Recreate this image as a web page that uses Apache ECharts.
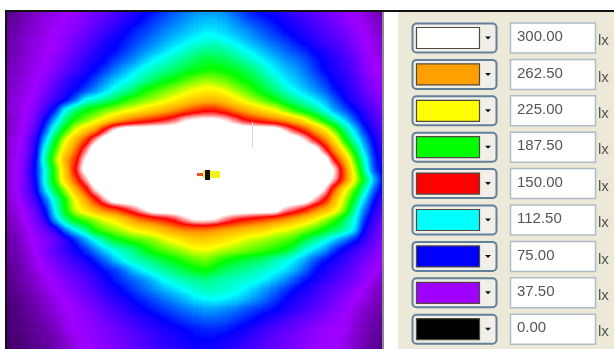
<!DOCTYPE html>
<html><head><meta charset="utf-8">
<script src="https://cdn.jsdelivr.net/npm/echarts@6/dist/echarts.min.js"></script>
<style>
html,body{margin:0;padding:0;background:#fff;width:614px;height:349px;overflow:hidden}
#clip{position:absolute;left:7px;top:12px;width:376px;height:337px;overflow:hidden}
#heat{position:absolute;left:-7px;top:-12px;width:390px;height:361px;filter:url(#ramp)}
#over{position:absolute;left:0;top:0;width:614px;height:349px;filter:blur(0.45px)}
</style></head><body>
<svg width="0" height="0" style="position:absolute">
<filter id="ramp" color-interpolation-filters="sRGB" x="0" y="0" width="100%" height="100%">
<feGaussianBlur in="SourceGraphic" stdDeviation="3.6"/>
<feComponentTransfer>
<feFuncR type="table" tableValues="0 0.627 0 0 0 1 1 1 1 1"/>
<feFuncG type="table" tableValues="0 0 0 1 1 1 0.627 0 1 1"/>
<feFuncB type="table" tableValues="0 1 1 1 0 0 0 0 1 1"/>
<feFuncA type="linear" slope="4"/>
</feComponentTransfer>
</filter>
</svg>
<div id="clip"><div id="heat"></div></div>
<div id="over"></div>
<script>
const legendValues = ['300.00','262.50','225.00','187.50','150.00','112.50','75.00','37.50','0.00'];
const legendColors = ['#ffffff','#ffa000','#ffff00','#00ff00','#ff0000','#00ffff','#0000ff','#a000ff','#000000'];
const xCells = [5,15,25,35,45,55,65,75,85,95,105,115,125,135,145,155,165,175,185,195,205,215,225,235,245,255,265,275,285,295,305,315,325,335,345,355,365,375,385];
const yCells = [10,20,30,40,50,60,70,80,90,100,110,120,130,140,150,160,170,180,190,200,210,220,230,240,250,260,270,280,290,300,310,320,330,340,350];
const lux = [
[20,23,26,29,32,35,37,40,44,48,52,57,62,68,73,78,83,87,91,95,97,97,94,88,82,77,73,69,65,61,57,53,49,45,41,38,33,28,24],
[21,24,28,31,34,36,38,41,45,50,55,60,66,72,78,83,88,93,97,101,103,103,100,95,89,84,79,75,70,66,61,57,52,48,43,39,35,30,26],
[22,25,29,32,35,37,40,44,48,54,60,66,73,79,84,89,94,98,102,106,108,108,106,101,96,91,86,81,76,71,66,61,56,52,47,41,37,32,28],
[23,26,30,33,36,38,42,47,53,60,67,73,78,84,89,94,99,104,109,113,116,116,113,108,103,98,93,88,83,77,71,66,60,55,50,44,38,34,30],
[24,27,31,34,36,39,44,50,57,65,71,76,82,89,95,101,107,113,119,125,129,130,126,120,113,107,101,95,90,85,79,73,67,61,55,48,40,35,32],
[25,28,32,35,37,42,48,55,62,70,76,83,90,97,105,112,118,124,130,136,141,142,137,132,125,116,110,104,97,92,87,80,73,66,59,52,42,37,34],
[26,29,32,36,39,45,52,60,68,75,83,92,100,108,116,123,129,135,141,147,151,152,148,145,138,131,119,111,105,99,93,84,74,69,62,55,44,39,36],
[27,30,33,37,42,50,59,69,76,85,95,104,111,119,127,136,144,152,160,167,172,170,165,156,148,141,131,121,110,104,98,90,82,72,66,58,48,41,38],
[28,31,35,38,46,56,66,74,84,94,105,116,125,135,151,158,165,172,180,186,191,190,184,174,164,152,142,132,120,111,105,97,89,78,70,61,50,44,40],
[29,33,36,41,50,60,72,88,113,120,128,137,152,160,168,175,183,191,200,208,214,214,207,194,183,172,160,149,138,127,119,110,100,87,76,65,55,47,42],
[30,33,37,44,58,78,112,132,147,156,165,172,181,186,197,205,216,225,236,248,256,256,245,232,218,207,196,185,168,152,140,128,114,98,86,76,63,53,46],
[28,32,37,47,72,100,130,153,165,178,192,211,224,238,247,256,265,277,296,303,305,305,298,282,262,252,242,232,222,207,189,167,146,124,106,86,70,58,50],
[28,33,39,54,85,122,152,181,204,222,266,305,320,320,320,320,320,320,320,320,320,320,320,320,320,320,320,320,296,270,250,220,195,163,132,106,80,65,52],
[29,34,42,62,102,142,183,213,243,287,320,320,320,320,320,320,320,320,320,320,320,320,320,320,320,320,320,320,320,320,298,265,234,197,150,122,94,70,56],
[29,35,44,65,117,155,198,232,278,320,320,320,320,320,320,320,320,320,320,320,320,320,320,320,320,320,320,320,320,320,320,320,272,225,183,142,105,75,60],
[30,36,46,70,124,170,219,250,300,320,320,320,320,320,320,320,320,320,320,320,320,320,320,320,320,320,320,320,320,320,320,320,320,262,217,161,116,81,64],
[30,36,47,75,112,155,206,262,310,320,320,320,320,320,320,320,320,320,320,320,320,320,320,320,320,320,320,320,320,320,320,320,320,300,240,178,125,84,68],
[30,36,47,72,116,155,203,243,285,320,320,320,320,320,320,320,320,320,320,320,320,320,320,320,320,320,320,320,320,320,320,320,320,290,241,187,143,100,70],
[30,36,47,68,108,140,172,213,250,296,320,320,320,320,320,320,320,320,320,320,320,320,320,320,320,320,320,320,320,320,320,320,298,240,190,160,122,88,65],
[29,35,45,60,88,120,150,185,218,253,290,320,320,320,320,320,320,320,320,320,320,320,320,320,320,320,320,320,320,320,320,292,262,215,177,143,104,75,58],
[28,33,40,52,74,112,148,180,200,217,235,245,262,280,302,320,320,320,320,320,320,320,320,320,320,320,320,320,290,277,258,235,217,197,168,125,92,68,52],
[26,31,38,46,62,100,130,150,160,172,184,193,210,228,238,247,256,268,288,303,305,300,282,268,258,250,243,235,228,214,202,189,172,156,135,115,82,60,47],
[24,29,35,42,50,65,93,112,128,153,164,172,180,190,197,204,217,226,231,233,233,228,223,218,212,207,202,191,185,179,170,160,148,138,127,110,72,56,44],
[23,27,33,38,43,50,62,80,97,114,130,146,153,160,166,172,182,191,200,206,208,203,198,190,183,178,173,168,163,157,142,129,116,105,92,79,62,52,42],
[22,26,31,39,46,54,63,72,82,94,107,116,125,133,147,157,164,171,178,185,187,183,178,173,168,164,160,155,148,135,118,108,99,82,71,62,54,46,40],
[21,25,29,36,42,48,55,63,70,80,90,105,116,123,128,135,143,150,157,163,168,160,152,147,142,137,132,125,118,110,100,88,78,70,63,55,48,42,38],
[20,24,28,33,38,44,50,56,62,70,78,84,92,106,115,122,128,135,141,148,152,145,138,132,128,124,120,115,110,102,90,78,70,64,57,52,43,38,34],
[19,22,27,31,36,40,45,50,56,62,70,79,85,90,96,104,115,120,125,129,131,127,125,122,119,116,111,104,96,88,78,71,63,58,52,47,41,35,31],
[18,21,25,29,33,37,42,46,52,58,65,72,78,85,90,96,102,107,113,119,122,122,121,116,111,105,98,91,84,76,70,63,57,52,47,41,36,31,27],
[18,20,23,27,31,35,39,42,47,52,58,65,70,77,81,86,91,96,102,108,111,112,110,107,102,96,90,83,76,69,64,58,53,48,43,38,34,29,26],
[17,19,22,25,29,33,37,40,44,48,53,58,63,70,75,79,83,87,91,95,98,98,95,92,87,83,79,76,70,64,59,54,49,44,40,35,30,27,24],
[17,18,21,24,27,30,34,38,41,45,49,53,58,62,67,72,75,79,83,86,89,89,87,84,80,76,70,65,60,56,52,48,44,41,38,33,29,25,23],
[16,18,20,23,25,28,34,38,40,43,46,49,53,57,61,65,69,72,75,78,80,80,79,76,71,66,61,57,53,49,46,43,40,38,37,32,28,24,22],
[16,17,19,22,24,27,31,36,39,42,44,47,50,54,58,62,66,69,72,75,76,75,72,69,65,61,57,53,50,47,44,41,39,38,36,31,27,23,21],
[15,17,19,21,23,26,29,34,38,40,42,45,48,51,55,59,63,66,69,71,72,71,68,65,61,58,54,51,48,45,43,40,38,38,34,30,26,23,20]
];

const heatData = [];
lux.forEach((row, j) => row.forEach((v, i) => heatData.push([i, j, v])));

const heat = echarts.init(document.getElementById('heat'), null, {renderer:'canvas'});
heat.setOption({
  animation:false,
  grid:{left:0,top:5,width:390,height:350,containLabel:false},
  xAxis:{type:'category',data:xCells,show:false},
  yAxis:{type:'category',data:yCells,inverse:true,show:false},
  visualMap:{show:false,min:0,max:337.5,calculable:false,dimension:2,inRange:{color:['#000000','#ffffff']}},
  series:[{type:'heatmap',data:heatData,progressive:0,itemStyle:{borderWidth:0},emphasis:{disabled:true}}]
});

const g = [];
g.push({type:'rect',shape:{x:398,y:12,width:216,height:337},style:{fill:'#ece9d8'}});
g.push({type:'rect',shape:{x:5,y:10,width:609,height:2},style:{fill:'#111111'}});
g.push({type:'rect',shape:{x:5,y:10,width:2,height:339},style:{fill:'#111111'}});
g.push({type:'rect',shape:{x:382,y:12,width:2,height:337},style:{fill:'#8a8a8a'}});
g.push({type:'rect',shape:{x:197,y:173,width:8,height:3},style:{fill:'#e8503a'}});
g.push({type:'rect',shape:{x:203,y:171,width:17,height:7},style:{fill:'#f2f21e'}});
g.push({type:'rect',shape:{x:205,y:170,width:5,height:10},style:{fill:'#101010'}});
g.push({type:'rect',shape:{x:252,y:122,width:1,height:26},style:{fill:'#d8d8d8'}});

legendValues.forEach((val, i) => {
  const cy = 38 + i * 36.4;
  g.push({type:'rect',shape:{x:412.5,y:cy-14.5,width:84,height:29,r:4},style:{fill:'#f1efe8',stroke:'#62809a',lineWidth:2}});
  g.push({type:'rect',shape:{x:416.5,y:cy-10.5,width:63,height:21},style:{fill:legendColors[i],stroke:'#4f4a40',lineWidth:1.2}});
  g.push({type:'polygon',shape:{points:[[485,cy-1.5],[491,cy-1.5],[488,cy+1.5]]},style:{fill:'#111111'}});
  g.push({type:'rect',shape:{x:510.5,y:cy-15,width:85,height:30},style:{fill:'#ffffff',stroke:'#aebcc8',lineWidth:1.5}});
  g.push({type:'text',style:{x:517,y:cy-1,text:val,fill:'#555555',font:'15px "Liberation Sans"',textVerticalAlign:'middle'}});
  g.push({type:'text',style:{x:598,y:cy+3,text:'lx',fill:'#555555',font:'15px "Liberation Sans"',textVerticalAlign:'middle'}});
});
const over = echarts.init(document.getElementById('over'), null, {renderer:'canvas'});
over.setOption({animation:false,backgroundColor:'transparent',graphic:{elements:g}});
</script>
</body></html>
